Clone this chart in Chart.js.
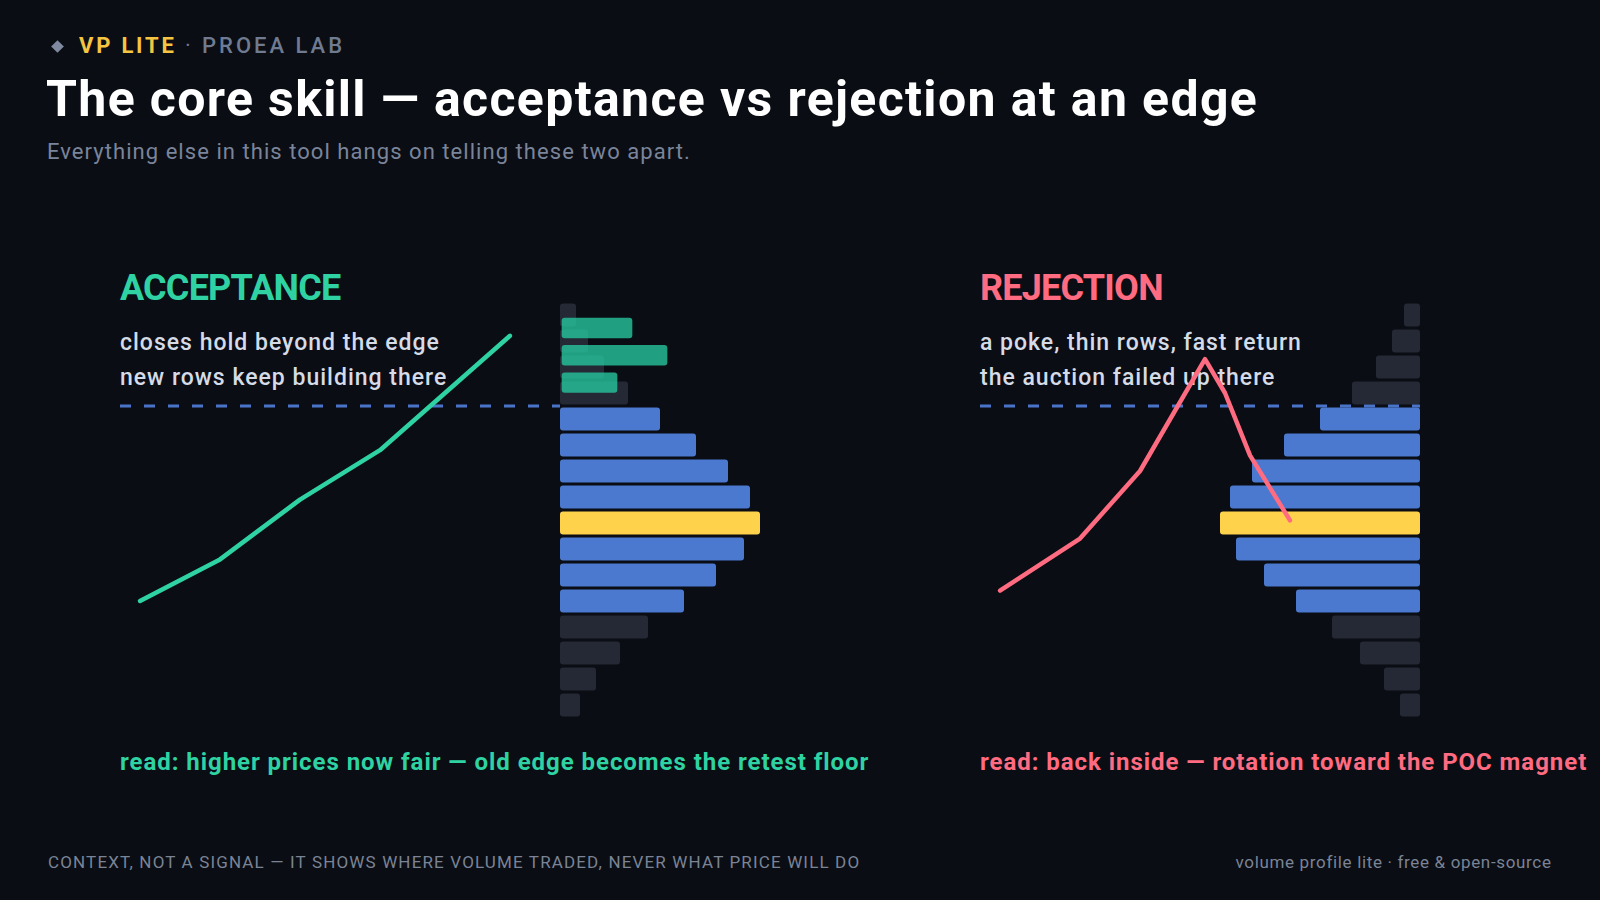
<!DOCTYPE html>
<html><head><meta charset="utf-8">
<script src="https://cdn.jsdelivr.net/npm/chart.js@4.4.1/dist/chart.umd.min.js"></script>
<style>
html,body{margin:0;padding:0;background:#0a0d13;}
#stage{position:relative;width:1600px;height:900px;overflow:hidden;background:#0a0d13;font-family:Roboto,"DejaVu Sans",sans-serif;}
.t{position:absolute;white-space:nowrap;line-height:1;}
canvas{position:absolute;}
</style></head><body>
<div id="stage">
  <div style="position:absolute;left:52.5px;top:41.5px;width:9px;height:9px;background:#7f8aa0;transform:rotate(45deg);"></div>
  <div class="t" style="left:79px;top:34.5px;font-size:22px;font-weight:700;letter-spacing:2.8px;color:#f5c542;">VP LITE</div>
  <div class="t" style="left:185px;top:34.5px;font-size:22px;color:#6d7890;">·</div>
  <div class="t" style="left:202px;top:34.5px;font-size:22px;font-weight:500;letter-spacing:3px;color:#6f7b91;">PROEA LAB</div>
  <div class="t" style="left:46px;top:73.9px;font-size:50px;font-weight:700;letter-spacing:1.35px;color:#ffffff;">The core skill — acceptance vs rejection at an edge</div>
  <div class="t" style="left:47px;top:140.5px;font-size:22px;letter-spacing:1.05px;color:#7a849a;">Everything else in this tool hangs on telling these two apart.</div>

  <div class="t" style="left:120px;top:269.7px;font-size:36px;font-weight:700;letter-spacing:-0.78px;color:#2fd3a3;">ACCEPTANCE</div>
  <div class="t" style="left:120px;top:330.6px;font-size:23px;font-weight:500;letter-spacing:1px;color:#d5dbe7;">closes hold beyond the edge</div>
  <div class="t" style="left:120px;top:365.6px;font-size:23px;font-weight:500;letter-spacing:1px;color:#d5dbe7;">new rows keep building there</div>

  <div class="t" style="left:980px;top:269.7px;font-size:36px;font-weight:700;letter-spacing:-0.78px;color:#ff6b81;">REJECTION</div>
  <div class="t" style="left:980px;top:330.6px;font-size:23px;font-weight:500;letter-spacing:1px;color:#d5dbe7;">a poke, thin rows, fast return</div>
  <div class="t" style="left:980px;top:365.6px;font-size:23px;font-weight:500;letter-spacing:1px;color:#d5dbe7;">the auction failed up there</div>

  <canvas id="profL" width="220" height="416" style="left:560px;top:302px;"></canvas>
  <canvas id="newL" width="220" height="416" style="left:560px;top:302px;"></canvas>
  <canvas id="lineL" width="480" height="456" style="left:100px;top:282px;"></canvas>

  <canvas id="profR" width="220" height="416" style="left:1200px;top:302px;"></canvas>
  <canvas id="lineR" width="480" height="456" style="left:960px;top:282px;"></canvas>

  <div class="t" style="left:120px;top:749.8px;font-size:24px;font-weight:700;letter-spacing:0.95px;color:#2fd3a3;">read: higher prices now fair — old edge becomes the retest floor</div>
  <div class="t" style="left:980px;top:749.8px;font-size:24px;font-weight:700;letter-spacing:0.95px;color:#ff6b81;">read: back inside — rotation toward the POC magnet</div>

  <div class="t" style="left:48px;top:853.7px;font-size:17px;letter-spacing:1.15px;color:#7a8496;">CONTEXT, NOT A SIGNAL — IT SHOWS WHERE VOLUME TRADED, NEVER WHAT PRICE WILL DO</div>
  <div class="t" style="right:48.4px;top:853.7px;font-size:17px;letter-spacing:0.66px;color:#7a8496;">volume profile lite · free &amp; open-source</div>
</div>
<script>
// ---- data ----
const priceRows = ['15.5','14.5','13.5','12.5','11.5','10.5','9.5','8.5','7.5','6.5','5.5','4.5','3.5','2.5','1.5','0.5'];
const rowZone = ['out','out','out','out','va','va','va','va','poc','va','va','va','out','out','out','out'];
const volumeAcceptance = [8,14,22,34,50,68,84,95,100,92,78,62,44,30,18,10];
const volumeRejection = [8,14,22,34,50,68,84,95,100,92,78,62,44,30,18,10];
const newRowPrices = [15.0,13.95,12.9];
const newRowVolumes = [36,53.5,28.5];
const acceptanceTime = [2,10,18,26,39];
const acceptancePrice = [4.5,6.1,8.4,10.3,14.7];
const rejectionTime = [2,10,16,22.5,24.5,27,31];
const rejectionPrice = [4.9,6.9,9.5,13.8,12.5,10.1,7.6];
const edgePrice = 12;
const timeSpan = [0,44];
const priceSpan = [0,16];

// ---- styles ----
const zoneColor = {out:'#242935', va:'#4b79cf', poc:'#ffd24c'};
const GREEN = '#2fd3a3', RED = '#ff6b81', EDGE = '#4a74c9';

const base = {
  responsive:false, animation:false, devicePixelRatio:1,
  layout:{padding:0},
  plugins:{legend:{display:false}, tooltip:{enabled:false}, title:{display:false}},
  events:[]
};

function profile(id, values, reverse){
  new Chart(document.getElementById(id), {
    type:'bar',
    data:{labels:priceRows, datasets:[{
      data:values,
      backgroundColor:rowZone.map(z=>zoneColor[z]),
      borderWidth:0, borderRadius:3, borderSkipped:false,
      categoryPercentage:1, barPercentage:0.885
    }]},
    options:Object.assign({}, base, {
      indexAxis:'y',
      scales:{
        x:{type:'linear', min:0, max:110, reverse:reverse, display:false},
        y:{type:'category', display:false, offset:true}
      }
    })
  });
}
profile('profL', volumeAcceptance, false);
profile('profR', volumeRejection, true);

new Chart(document.getElementById('newL'), {
  type:'bar',
  data:{datasets:[{
    data:newRowPrices.map((p,i)=>({y:p, x:[1,newRowVolumes[i]]})),
    backgroundColor:'rgba(39,197,158,0.8)',
    borderWidth:0, borderRadius:3, borderSkipped:false,
    categoryPercentage:1, barThickness:19.7
  }]},
  options:Object.assign({}, base, {
    indexAxis:'y',
    scales:{
      x:{type:'linear', min:0, max:110, display:false, offset:false},
      y:{type:'linear', min:priceSpan[0], max:priceSpan[1], display:false, offset:false}
    }
  })
});

function lineChart(id, xs, ys, color){
  new Chart(document.getElementById(id), {
    type:'line',
    data:{datasets:[
      {data:xs.map((x,i)=>({x:x, y:ys[i]})), borderColor:color, borderWidth:4.5,
       pointRadius:0, tension:0, clip:false, borderCapStyle:'round', borderJoinStyle:'round', order:1},
      {data:[{x:timeSpan[0], y:edgePrice},{x:timeSpan[1], y:edgePrice}], borderColor:EDGE, borderWidth:3,
       borderDash:[11,13], pointRadius:0, clip:false, order:2}
    ]},
    options:Object.assign({}, base, {
      layout:{padding:20},
      scales:{
        x:{type:'linear', min:timeSpan[0], max:timeSpan[1], display:false},
        y:{type:'linear', min:priceSpan[0], max:priceSpan[1], display:false}
      }
    })
  });
}
lineChart('lineL', acceptanceTime, acceptancePrice, GREEN);
lineChart('lineR', rejectionTime, rejectionPrice, RED);
</script>
</body></html>
